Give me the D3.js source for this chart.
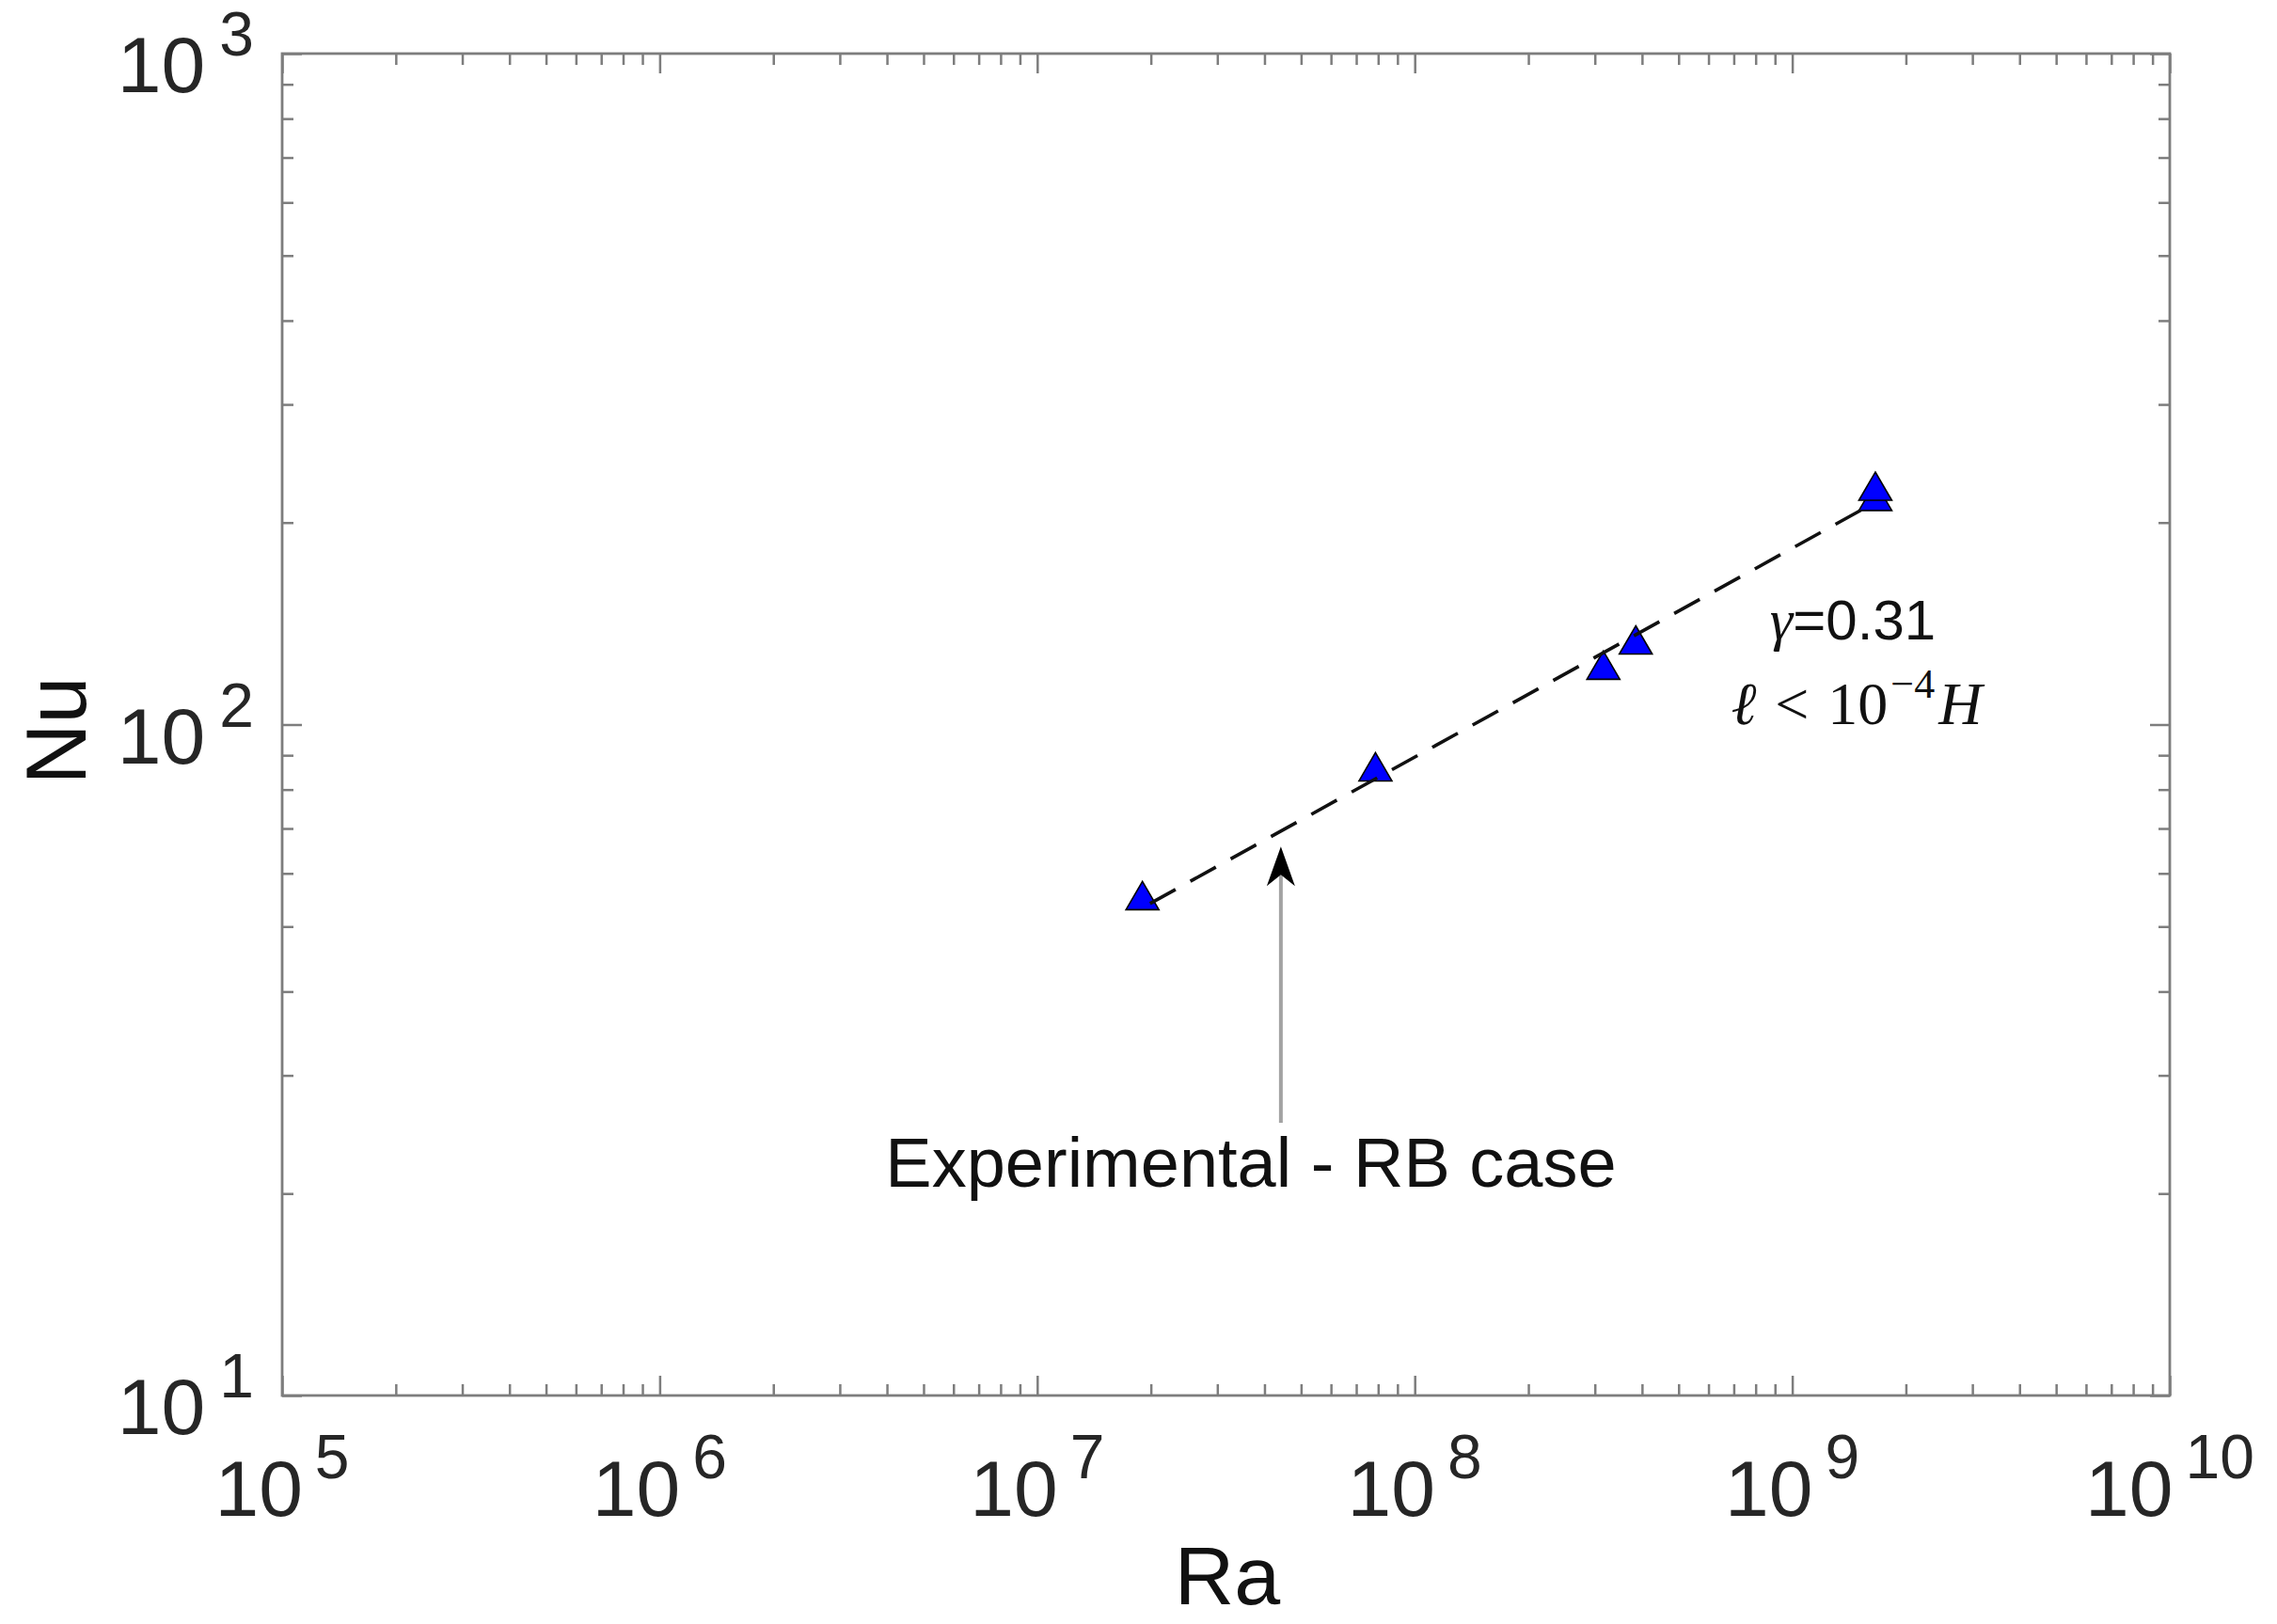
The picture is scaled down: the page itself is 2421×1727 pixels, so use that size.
<!DOCTYPE html>
<html>
<head>
<meta charset="utf-8">
<script src="https://cdn.jsdelivr.net/npm/d3@7"></script>
<style>
  html, body { margin: 0; padding: 0; background: #fff; }
  svg { display: block; }
</style>
</head>
<body>
<script>
// ---------------- data ----------------
const raValues = [1.90e7, 7.87e7, 3.16e8, 3.85e8, 1.66e9, 1.66e9];
const nuValues = [55.6, 86.5, 122.6, 133.7, 218.8, 226.6];
const fitRa = [1.99e7, 1.53e9];
const fitNu = [54.1, 209.1];
const xTickExponents = [5, 6, 7, 8, 9, 10];
const yTickExponents = [1, 2, 3];
const xDomain = [1e5, 1e10];
const yDomain = [10, 1000];
const xTitle = "Ra";
const yTitle = "Nu";
const arrowNote = { text: "Experimental - RB case", ra: 4.42e7, tipNu: 65.8, tailNu: 25.5 };
const gammaNote = { symbol: "γ", rest: "=0.31" };

// ---------------- layout ----------------
const W = 2421, H = 1727;
const m = { left: 300, top: 57, right: 2307, bottom: 1484 };
const axisColor = "#7d7d7d";
const textColor = "#262626";
const sans = "'Liberation Sans', Arial, Helvetica, sans-serif";
const serif = "'Liberation Serif', 'DejaVu Serif', 'Times New Roman', serif";

const svg = d3.select("body").append("svg")
  .attr("width", W).attr("height", H)
  .attr("viewBox", `0 0 ${W} ${H}`);

const x = d3.scaleLog().domain(xDomain).range([m.left, m.right]);
const y = d3.scaleLog().domain(yDomain).range([m.bottom, m.top]);

const xAll = x.ticks();
const yAll = y.ticks();
const isMajor = v => Math.abs(Math.log10(v) - Math.round(Math.log10(v))) < 1e-9;
const xMajor = xAll.filter(isMajor), xMinor = xAll.filter(v => !isMajor(v));
const yMajor = yAll.filter(isMajor), yMinor = yAll.filter(v => !isMajor(v));

const MAJ = 21, MIN = 12;

function styleAxis(g) {
  g.select(".domain").remove();
  g.selectAll(".tick line").attr("stroke", axisColor).attr("stroke-width", 2.5);
  g.selectAll(".tick text").remove();
}

// bottom ticks (inward)
svg.append("g").attr("transform", `translate(0,${m.bottom})`)
  .call(d3.axisBottom(x).tickValues(xMajor).tickSize(-MAJ).tickFormat(() => "")).call(styleAxis);
svg.append("g").attr("transform", `translate(0,${m.bottom})`)
  .call(d3.axisBottom(x).tickValues(xMinor).tickSize(-MIN).tickFormat(() => "")).call(styleAxis);
// top ticks
svg.append("g").attr("transform", `translate(0,${m.top})`)
  .call(d3.axisTop(x).tickValues(xMajor).tickSize(-MAJ).tickFormat(() => "")).call(styleAxis);
svg.append("g").attr("transform", `translate(0,${m.top})`)
  .call(d3.axisTop(x).tickValues(xMinor).tickSize(-MIN).tickFormat(() => "")).call(styleAxis);
// left ticks
svg.append("g").attr("transform", `translate(${m.left},0)`)
  .call(d3.axisLeft(y).tickValues(yMajor).tickSize(-MAJ).tickFormat(() => "")).call(styleAxis);
svg.append("g").attr("transform", `translate(${m.left},0)`)
  .call(d3.axisLeft(y).tickValues(yMinor).tickSize(-MIN).tickFormat(() => "")).call(styleAxis);
// right ticks
svg.append("g").attr("transform", `translate(${m.right},0)`)
  .call(d3.axisRight(y).tickValues(yMajor).tickSize(-MAJ).tickFormat(() => "")).call(styleAxis);
svg.append("g").attr("transform", `translate(${m.right},0)`)
  .call(d3.axisRight(y).tickValues(yMinor).tickSize(-MIN).tickFormat(() => "")).call(styleAxis);

// box
svg.append("rect")
  .attr("x", m.left).attr("y", m.top)
  .attr("width", m.right - m.left).attr("height", m.bottom - m.top)
  .attr("fill", "none").attr("stroke", axisColor).attr("stroke-width", 2.8);

// x tick labels
const xl = svg.append("g").selectAll("text").data(xTickExponents).join("text")
  .attr("x", d => x(Math.pow(10, d)))
  .attr("y", m.bottom + 128)
  .attr("text-anchor", "middle")
  .attr("font-family", sans).attr("fill", textColor);
xl.append("tspan").attr("font-size", 84).text("10");
xl.append("tspan").attr("font-size", 66).attr("dx", 13).attr("dy", -40).text(d => d);

// y tick labels
const yl = svg.append("g").selectAll("text").data(yTickExponents).join("text")
  .attr("x", 270)
  .attr("y", d => y(Math.pow(10, d)) + 41)
  .attr("text-anchor", "end")
  .attr("font-family", sans).attr("fill", textColor);
yl.append("tspan").attr("font-size", 84).text("10");
yl.append("tspan").attr("font-size", 66).attr("dx", 15).attr("dy", -39).text(d => d);

// axis titles
svg.append("text").attr("x", 1305).attr("y", 1706)
  .attr("text-anchor", "middle").attr("font-family", sans).attr("font-size", 88)
  .attr("fill", "#111").text(xTitle);
svg.append("text").attr("transform", "translate(91,777) rotate(-90)")
  .attr("text-anchor", "middle").attr("font-family", sans).attr("font-size", 90)
  .attr("fill", "#111").text(yTitle);

// data markers (triangles)
const TW = 35, TH = 30;
const tri = `M0,${-TH / 2}L${TW / 2},${TH / 2}L${-TW / 2},${TH / 2}Z`;
svg.append("g").selectAll("path").data(raValues.map((r, i) => [r, nuValues[i]])).join("path")
  .attr("d", tri)
  .attr("transform", d => `translate(${x(d[0])},${y(d[1])})`)
  .attr("fill", "#0000ff").attr("stroke", "#000").attr("stroke-width", 1.6)
  .attr("stroke-linejoin", "miter");

// fit line (dashed)
const line = d3.line().x(d => x(d[0])).y(d => y(d[1]));
svg.append("path")
  .datum(fitRa.map((r, i) => [r, fitNu[i]]))
  .attr("d", line)
  .attr("fill", "none").attr("stroke", "#111").attr("stroke-width", 3.6)
  .attr("stroke-dasharray", "31 18");

// arrow annotation
const ax = x(arrowNote.ra), tipY = y(arrowNote.tipNu), tailY = y(arrowNote.tailNu);
svg.append("line").attr("x1", ax).attr("x2", ax).attr("y1", tailY).attr("y2", tipY + 30)
  .attr("stroke", "#a3a3a3").attr("stroke-width", 4);
svg.append("path")
  .attr("d", `M${ax},${tipY}L${ax + 15},${tipY + 42}L${ax},${tipY + 30}L${ax - 15},${tipY + 42}Z`)
  .attr("fill", "#000");
svg.append("text").attr("x", 1330).attr("y", 1262)
  .attr("text-anchor", "middle").attr("font-family", sans).attr("font-size", 74)
  .attr("fill", "#111").text(arrowNote.text);

// gamma annotation
const gt = svg.append("text").attr("x", 1970).attr("y", 680)
  .attr("text-anchor", "middle").attr("fill", "#111");
gt.append("tspan").attr("font-family", serif).attr("font-style", "italic").attr("font-size", 62).text(gammaNote.symbol);
gt.append("tspan").attr("font-family", sans).attr("font-size", 60).text(gammaNote.rest);

// ell annotation
const lt = svg.append("text").attr("x", 1974).attr("y", 770)
  .attr("text-anchor", "middle").attr("fill", "#111").attr("font-family", serif).attr("font-size", 64);
lt.append("tspan").attr("font-style", "italic").text("ℓ");
lt.append("tspan").attr("dx", 20).text("<");
lt.append("tspan").attr("dx", 20).text("10");
lt.append("tspan").attr("font-size", 44).attr("dy", -28).attr("dx", 3).text("−4");
lt.append("tspan").attr("font-style", "italic").attr("dy", 28).attr("dx", 4).text("H");
</script>
</body>
</html>
